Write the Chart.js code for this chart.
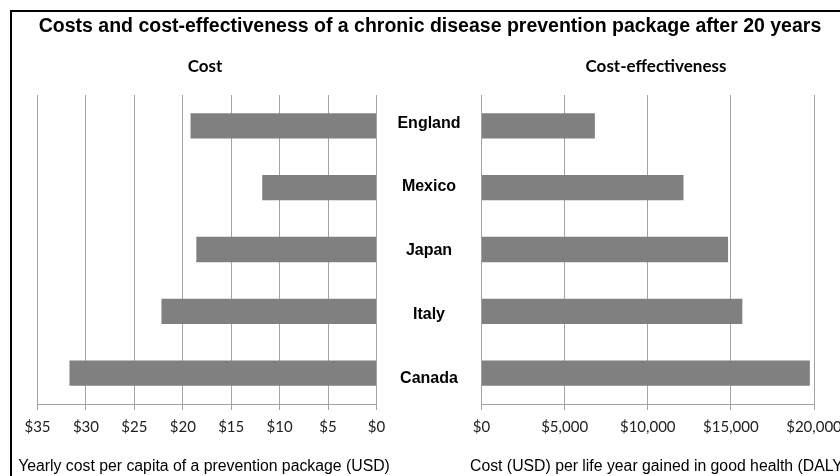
<!DOCTYPE html>
<html>
<head>
<meta charset="utf-8">
<script src="https://cdn.jsdelivr.net/npm/chart.js@4"></script>
<style>
  html, body { margin: 0; padding: 0; background: #fff; }
  #wrap { position: relative; width: 840px; height: 476px; overflow: hidden; }
  #wrap canvas { position: absolute; left: 0; top: 0; }
</style>
</head>
<body>
<div id="wrap">
  <canvas id="cost" width="840" height="476"></canvas>
  <canvas id="effect" width="840" height="476"></canvas>
</div>
<script>
// pays, du haut vers le bas
const countries = ['England', 'Mexico', 'Japan', 'Italy', 'Canada'];
// coût annuel par habitant (USD)
const costValues = [19.2, 11.8, 18.6, 22.2, 31.7];
// coût (USD) par année de vie gagnée en bonne santé
const effectValues = [6820, 12150, 14830, 15690, 19750];

const costTicks = [0, 5, 10, 15, 20, 25, 30, 35];
const effectTicks = [0, 5000, 10000, 15000, 20000];

const mainTitle = 'Costs and cost-effectiveness of a chronic disease prevention package after 20 years';
const costTitle = 'Cost';
const effectTitle = 'Cost-effectiveness';
const costAxisTitle = 'Yearly cost per capita of a prevention package (USD)';
const effectAxisTitle = 'Cost (USD) per life year gained in good health (DALY)';

const gridColor = '#a3a3a3';
const barColor = '#808080';
const tickFont = { family: 'Lato', size: 15 };

Chart.defaults.animation = false;

// cadre + titres, dessinés sur le premier canvas
const decor = {
  id: 'decor',
  afterDraw(chart) {
    const ctx = chart.ctx;
    ctx.save();
    ctx.strokeStyle = '#000';
    ctx.lineWidth = 2;
    ctx.beginPath();
    ctx.moveTo(11, 476);
    ctx.lineTo(11, 11);
    ctx.lineTo(840, 11);
    ctx.stroke();

    ctx.fillStyle = '#000';
    ctx.textBaseline = 'middle';
    ctx.textAlign = 'center';
    ctx.font = 'bold 19.5px "Liberation Sans", Arial, sans-serif';
    ctx.fillText(mainTitle, 430, 27);

    ctx.font = 'bold 17px Lato, sans-serif';
    ctx.fillText(costTitle, 205, 67);
    ctx.fillText(effectTitle, 656, 67);

    ctx.font = '15.8px "Liberation Sans", Arial, sans-serif';
    ctx.fillText(costAxisTitle, 204, 467);
    ctx.textAlign = 'left';
    ctx.fillText(effectAxisTitle, 470, 467);
    ctx.restore();
  }
};

// noms des pays au milieu, placés avec l'axe y du graphique
// (dans l'original ils sont un peu plus espacés que les barres)
const countryLabels = {
  id: 'countryLabels',
  afterDraw(chart) {
    const ctx = chart.ctx;
    const y = chart.scales.y;
    const mid = (376.5 + chart.chartArea.left) / 2;
    ctx.save();
    ctx.fillStyle = '#000';
    ctx.font = 'bold 16px "Liberation Sans", Arial, sans-serif';
    ctx.textAlign = 'center';
    ctx.textBaseline = 'middle';
    countries.forEach((c, i) => {
      ctx.fillText(c, mid, y.getPixelForTick(i) + i * 1.9 - 2.6);
    });
    ctx.restore();
  }
};

function makeChart(el, values, ticks, reverse, pad, fmt, plugins) {
  return new Chart(document.querySelector(el), {
    type: 'bar',
    data: {
      labels: countries,
      datasets: [{
        data: values,
        backgroundColor: barColor,
        borderWidth: 0,
        barPercentage: 0.41,
        categoryPercentage: 1
      }]
    },
    options: {
      responsive: false,
      indexAxis: 'y',
      layout: { padding: pad },
      plugins: { legend: { display: false }, tooltip: { enabled: false } },
      scales: {
        x: {
          type: 'linear',
          reverse: reverse,
          min: ticks[0],
          max: ticks[ticks.length - 1],
          afterBuildTicks(axis) {
            axis.ticks = ticks.map(v => ({ value: v }));
          },
          afterFit(axis) {
            axis.height = 72;
            axis.paddingLeft = 0;
            axis.paddingRight = 0;
          },
          grid: { color: gridColor, lineWidth: 1, drawTicks: true, tickLength: 6 },
          border: { display: true, color: gridColor },
          ticks: {
            font: tickFont,
            color: '#222',
            padding: 8,
            maxRotation: 0,
            callback: fmt
          }
        },
        y: { display: false }
      }
    },
    plugins: plugins
  });
}

makeChart('#cost', costValues, costTicks, true,
  { left: 37.5, right: 463.5, top: 95, bottom: 0 },
  v => '$' + v, [decor]);

makeChart('#effect', effectValues, effectTicks, false,
  { left: 481.5, right: 26, top: 95, bottom: 0 },
  v => '$' + v.toLocaleString('en-US'), [countryLabels]);
</script>
</body>
</html>
